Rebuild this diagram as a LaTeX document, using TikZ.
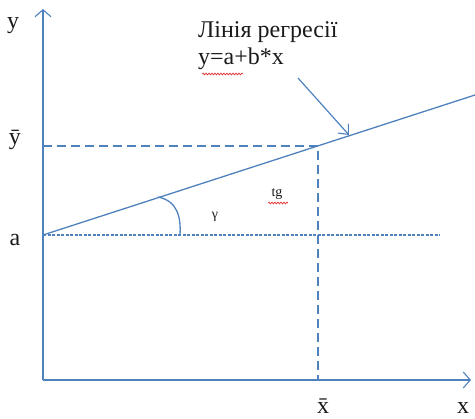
\documentclass[tikz,border=0pt]{standalone}
\usepackage{fontspec}
\setmainfont{Liberation Serif}
\usepackage{tikz}
\usetikzlibrary{arrows.meta,positioning,decorations.pathmorphing}
\definecolor{lineblue}{HTML}{4F81BD}
\definecolor{inkdark}{HTML}{1A1A1A}
\definecolor{spellred}{HTML}{E03030}
\tikzset{
  axis/.style   ={line width=1.3pt,draw=lineblue,-{Straight Barb[length=7pt,width=16pt,line width=1.1pt]}},
  regline/.style={line width=1.3pt,draw=lineblue},
  guide/.style  ={line width=1.2pt,draw=lineblue,dash pattern=on 9pt off 5pt},
  dotguide/.style={line width=1.1pt,draw=lineblue,dash pattern=on 3pt off 1.5pt},
  callout/.style={line width=1.2pt,draw=lineblue,-{Straight Barb[length=8pt,width=14pt,line width=1.1pt]}},
  lbl/.style    ={text=inkdark,inner sep=0pt,font=\fontsize{24}{27}\selectfont},
  small/.style  ={text=inkdark,inner sep=0pt,font=\fontsize{14}{16}\selectfont},
  spell/.style  ={draw=spellred,line width=0.7pt,
                  decorate,decoration={snake,amplitude=0.9pt,segment length=3pt}}
}
\begin{document}
\begin{tikzpicture}[x=1pt,y=-1pt]
  \useasboundingbox (0,0) rectangle (475,419);
  % axes
  \coordinate (O) at (43,380);
  \coordinate (ytop) at (43,9);
  \coordinate (xend) at (471,380);
  \draw[axis] (O) -- (ytop);
  \draw[axis] (O) -- (xend);
  % regression line and means
  \coordinate (A) at (43,235);
  \coordinate (M) at (318,146);
  \coordinate (lend) at (475,95);
  \coordinate (ym) at (43,146);
  \coordinate (xm) at (318,380);
  \coordinate (hend) at (440,235);
  \draw[regline] (A) -- (lend);
  \draw[guide] (ym) -- (M) -- (xm);
  \draw[dotguide] (A) -- (hend);
  % angle
  \coordinate (g1) at (158,197);
  \coordinate (g2) at (180,235);
  \draw[regline] (g1) .. controls (178,201) and (181,218) .. (g2);
  % labels
  \node[lbl] (ly) at (13,26) {y};
  \node[lbl] (lybar) at (15,140) {\=y};
  \node[lbl] (la) at (15,240) {a};
  \node[lbl] (lxbar) at (323,406) {\=x};
  \node[lbl] (lx) at (463,408) {x};
  \node[small] (gam) at (215,217) {γ};
  \node[small] (tg) at (277,194) {tg};
  \node[lbl,anchor=north west,align=left] (title) at (198,21)
    {Лінія регресії\\y=a+b*x};
  % callout
  \coordinate (cs) at (298,78);
  \coordinate (ce) at (349,135);
  \draw[callout] (cs) -- (ce);
  % spelling marks
  \draw[spell] (202,74) -- (243,74);
  \draw[spell] (268,203) -- (288,203);
\end{tikzpicture}
\end{document}
